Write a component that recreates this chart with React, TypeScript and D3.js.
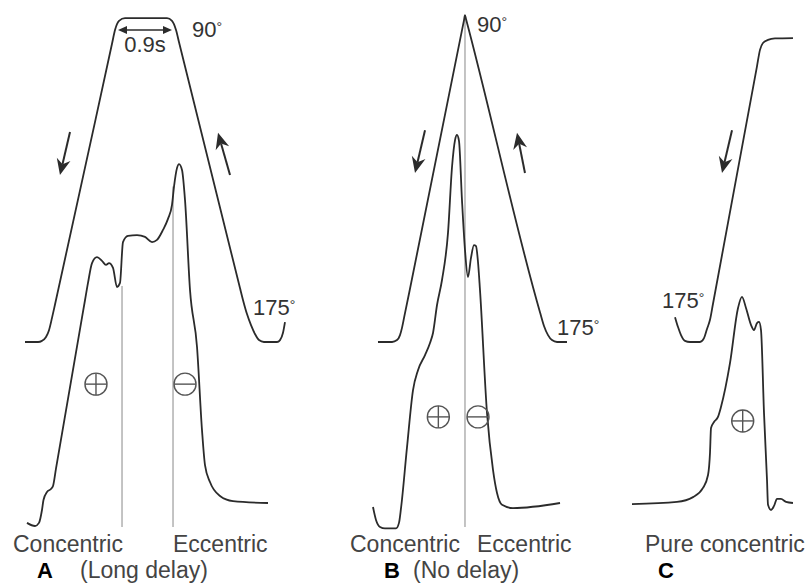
import React from 'react';
import * as d3 from 'd3';

type P = [number, number];

// time (s) vs joint angle (deg)
const angleA: P[] = [
  [0, 175], [0.217, 175], [0.283, 174.7], [0.35, 173.7], [0.4, 171.9], [0.45, 168.7], [0.5, 165.2],
  [1.45, 97.0], [1.5, 93.4], [1.567, 91.0], [1.667, 90.3], [2.367, 90.3], [2.45, 91.0], [2.517, 93.4],
  [2.567, 96.6], [3.583, 160.9], [3.633, 164.0], [3.7, 167.7], [3.767, 170.6], [3.833, 172.9],
  [3.9, 174.5], [3.983, 175], [4.2, 175], [4.25, 174.5], [4.3, 172.6], [4.333, 169.8],
];
const angleB: P[] = [
  [0.083, 175], [0.317, 175], [0.4, 174.5], [0.45, 173.2], [0.483, 171.3], [0.517, 168.7],
  [1.517, 90.8], [1.533, 89.5], [1.55, 90.5], [2.783, 167.2], [2.85, 170.8], [2.917, 173.2],
  [2.983, 174.5], [3.067, 175], [3.233, 175],
];
const angleC: P[] = [
  [0.717, 168.5], [0.767, 171.1], [0.817, 173.2], [0.883, 174.7], [0.967, 175], [1.133, 175],
  [1.2, 174.0], [1.25, 171.6], [1.3, 169.2], [1.35, 165.0], [2.083, 102.9], [2.133, 98.6],
  [2.183, 96.8], [2.267, 96.0], [2.383, 95.6], [2.683, 95.5],
];

// time (s) vs muscle force (relative units)
const forceA: P[] = [
  [0.033, -5.4], [0.167, -6.25], [0.233, -5.4], [0.283, -1.9], [0.308, 0.8], [0.367, 3.0], [0.433, 3.8],
  [0.467, 4.6], [0.517, 9.4], [1.0, 55.1], [1.05, 59.8], [1.117, 65.2], [1.2, 66.8], [1.283, 65.8],
  [1.35, 64.7], [1.4, 65.2], [1.467, 63.9], [1.533, 58.7], [1.583, 59.8], [1.633, 70.9], [1.717, 72.6],
  [1.867, 72.8], [2.0, 72.3], [2.117, 70.9], [2.2, 71.5], [2.3, 74.2], [2.383, 77.2], [2.45, 81.0],
  [2.483, 85.9], [2.533, 91.0], [2.567, 92.1], [2.617, 90.5], [2.667, 82.3], [2.75, 57.9], [2.867, 42.4],
  [2.95, 19.8], [3.0, 10.3], [3.083, 5.7], [3.25, 1.9], [3.467, 0.5], [4.05, 0],
];
const forceB: P[] = [
  [0, -1.1], [0.05, -4.6], [0.117, -6.5], [0.2, -6.9], [0.383, -6.9], [0.433, -5.4], [0.467, -1.4],
  [0.567, 15.2], [0.667, 30.7], [0.75, 36.1], [0.867, 40.2], [0.95, 43.5], [1.0, 46.2], [1.067, 53.8],
  [1.15, 60.6], [1.25, 73.4], [1.317, 91.3], [1.367, 98.6], [1.4, 100], [1.433, 98.4], [1.483, 82.3],
  [1.533, 68.8], [1.583, 61.4], [1.633, 66.6], [1.683, 70.1], [1.717, 69.8], [1.75, 65.5], [1.783, 57.9],
  [1.9, 24.5], [2.0, 9.0], [2.067, 2.7], [2.15, -0.5], [2.333, -1.4], [3.117, 0],
];
const forceC: P[] = [
  [0, -0.3], [0.75, 0.3], [1.017, 1.6], [1.183, 4.1], [1.267, 7.6], [1.3, 13.6], [1.317, 20.4],
  [1.367, 22.0], [1.433, 23.4], [1.483, 26.1], [1.633, 38.0], [1.767, 53.0], [1.833, 56.0], [1.9, 53.0],
  [1.983, 48.4], [2.033, 47.0], [2.083, 48.9], [2.117, 49.2], [2.15, 47.0], [2.2, 24.5], [2.25, 6.3],
  [2.267, -0.5], [2.317, -1.9], [2.367, -0.8], [2.417, 1.1], [2.483, 1.1], [2.567, 0.3], [2.683, 0],
];

// direction arrows: [tTail, degTail, tTip, degTip]
const arrowsA: number[][] = [[0.75, 120.1, 0.583, 131.3], [3.417, 131.3, 3.217, 120.3]];
const arrowsB: number[][] = [[0.867, 119.6, 0.7, 130.8], [2.533, 130.8, 2.4, 120.3]];
const arrowsC: number[][] = [[1.667, 119.6, 1.5, 130.8]];

// phase symbols: [t, force, sign]
const signsA: [number, number, string][] = [[1.183, 32.3, '+'], [2.667, 32.3, '-']];
const signsB: [number, number, string][] = [[1.089, 23.4, '+'], [1.75, 23.4, '-']];
const signsC: [number, number, string][] = [[1.845, 22.3, '+']];

const angleY = d3.scaleLinear().domain([90, 175]).range([17, 342]);
const forceY = d3.scaleLinear().domain([0, 100]).range([503, 135]);
const timeX = (x0: number) => d3.scaleLinear().domain([0, 1]).range([x0, x0 + 60]);

const INK = '#2b2b2b';
const FONT = '"Liberation Sans", Arial, Helvetica, sans-serif';

function Arrow({ x1, y1, x2, y2, len = 16, half = 7, notch = 5, sw = 2 }: any) {
  const dx = x2 - x1, dy = y2 - y1, L = Math.hypot(dx, dy);
  const ux = dx / L, uy = dy / L, px = -uy, py = ux;
  const bx = x2 - ux * len, by = y2 - uy * len;
  const nx = x2 - ux * (len - notch), ny = y2 - uy * (len - notch);
  const pts = [[x2, y2], [bx + px * half, by + py * half], [nx, ny], [bx - px * half, by - py * half]];
  return (
    <g>
      <line x1={x1} y1={y1} x2={nx} y2={ny} stroke={INK} strokeWidth={sw} />
      <polygon points={pts.map(p => p.join(',')).join(' ')} fill={INK} />
    </g>
  );
}

function Sign({ cx, cy, s }: { cx: number; cy: number; s: string }) {
  const r = 11;
  return (
    <g stroke="#555" strokeWidth={1.4} fill="none">
      <circle cx={cx} cy={cy} r={r} />
      <line x1={cx - r} y1={cy} x2={cx + r} y2={cy} />
      {s === '+' && <line x1={cx} y1={cy - r} x2={cx} y2={cy + r} />}
    </g>
  );
}

function Deg({ x, y, v }: { x: number; y: number; v: string }) {
  return (
    <text x={x} y={y} fontSize={22} fill="#333" fontFamily={FONT}>
      {v}
      <tspan fontSize={14} dy={-5}>°</tspan>
    </text>
  );
}

const panels = [
  { key: 'A', x0: 25, angle: angleA, force: forceA, arrows: arrowsA, signs: signsA },
  { key: 'B', x0: 373, angle: angleB, force: forceB, arrows: arrowsB, signs: signsB },
  { key: 'C', x0: 632, angle: angleC, force: forceC, arrows: arrowsC, signs: signsC },
];

export default function App() {
  const xA = timeX(25), xB = timeX(373);
  const yPl = angleY(93.4);
  return (
    <svg width={805} height={583} style={{ position: 'absolute', left: 0, top: 0, display: 'block', background: '#fff' }}>
      <rect width={805} height={583} fill="#fff" />
      {/* gray reference lines */}
      <g stroke="#b0b0b0" strokeWidth={1.5}>
        <line x1={xA(1.617)} x2={xA(1.617)} y1={forceY(59)} y2={forceY(-6.5)} />
        <line x1={xA(2.467)} x2={xA(2.467)} y1={forceY(86)} y2={forceY(-6.5)} />
        <line x1={xB(1.533)} x2={xB(1.533)} y1={angleY(89.5)} y2={forceY(-6.5)} />
      </g>
      {panels.map(p => {
        const x = timeX(p.x0);
        const la = d3.line<P>().x(d => x(d[0])).y(d => angleY(d[1])).curve(d3.curveMonotoneX);
        const lf = d3.line<P>().x(d => x(d[0])).y(d => forceY(d[1])).curve(d3.curveMonotoneX);
        return (
          <g key={p.key}>
            <path d={la(p.angle) || ''} fill="none" stroke={INK} strokeWidth={1.8} strokeLinejoin="round" />
            <path d={lf(p.force) || ''} fill="none" stroke={INK} strokeWidth={1.8} strokeLinejoin="round" />
            {p.arrows.map((a, i) => (
              <Arrow key={i} x1={x(a[0])} y1={angleY(a[1])} x2={x(a[2])} y2={angleY(a[3])} />
            ))}
            {p.signs.map((s, i) => (
              <Sign key={i} cx={x(s[0])} cy={forceY(s[1])} s={s[2]} />
            ))}
          </g>
        );
      })}
      {/* 0.9 s plateau marker */}
      <g>
        <line x1={xA(1.55) + 6} x2={xA(2.45) - 6} y1={yPl} y2={yPl} stroke={INK} strokeWidth={1.4} />
        <polygon points={`${xA(1.55)},${yPl} ${xA(1.55) + 9},${yPl - 4} ${xA(1.55) + 9},${yPl + 4}`} fill={INK} />
        <polygon points={`${xA(2.45)},${yPl} ${xA(2.45) - 9},${yPl - 4} ${xA(2.45) - 9},${yPl + 4}`} fill={INK} />
        <text x={xA(2.0)} y={52} textAnchor="middle" fontSize={22} fill="#333" fontFamily={FONT}>0.9s</text>
      </g>
      <Deg x={192} y={37} v="90" />
      <Deg x={477} y={32} v="90" />
      <Deg x={253} y={315} v="175" />
      <Deg x={557} y={335} v="175" />
      <Deg x={662} y={308} v="175" />
      {/* bottom labels */}
      <g fontFamily={FONT} fontSize={23} fill="#444">
        <text x={13} y={552}>Concentric</text>
        <text x={173} y={552}>Eccentric</text>
        <text x={80} y={578}>(Long delay)</text>
        <text x={350} y={552}>Concentric</text>
        <text x={477} y={552}>Eccentric</text>
        <text x={413} y={578}>(No delay)</text>
        <text x={645} y={552}>Pure concentric</text>
      </g>
      <g fontFamily={FONT} fontSize={22} fontWeight="bold" fill="#000">
        <text x={37} y={578}>A</text>
        <text x={384} y={578}>B</text>
        <text x={658} y={578}>C</text>
      </g>
    </svg>
  );
}
